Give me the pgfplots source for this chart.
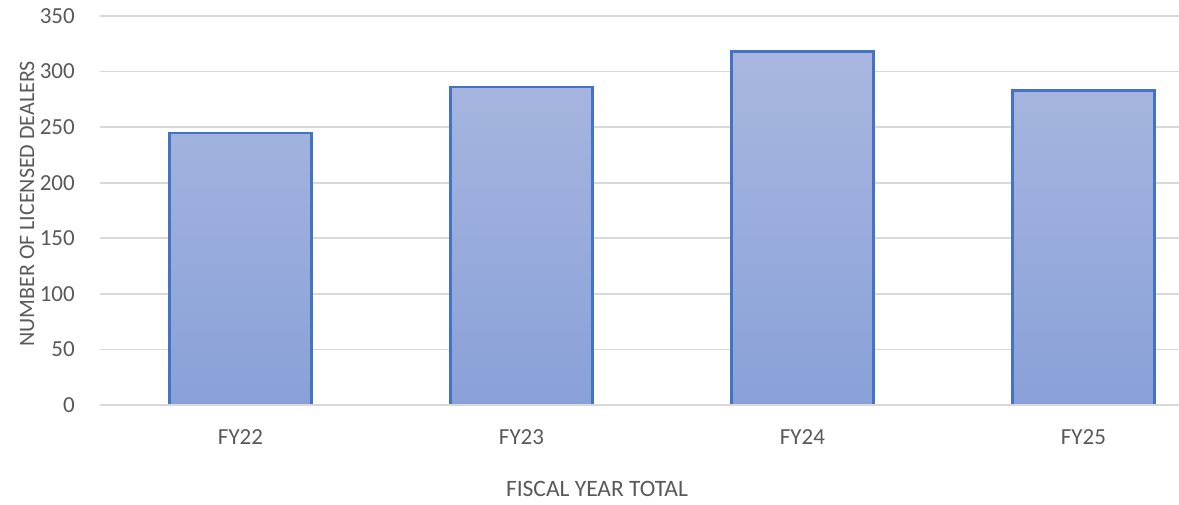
\documentclass[border=0pt]{standalone}
\usepackage{pgfplots}
\pgfplotsset{compat=1.18}
\usepackage{fontspec}
\setmainfont{Carlito}
\definecolor{labelgray}{HTML}{595959}
\definecolor{gridgray}{HTML}{D9D9D9}
\definecolor{barborder}{HTML}{4472C4}
\definecolor{bartop}{HTML}{A9B7E0}
\definecolor{barbottom}{HTML}{89A1D8}
\begin{document}
\begin{tikzpicture}[x=1pt,y=1pt]
\path[use as bounding box] (0,0) rectangle (1179,505);
\begin{axis}[
  at={(100pt,100pt)}, anchor=south west,
  scale only axis, width=1079pt, height=389pt,
  xmin=-0.5, xmax=3.34, ymin=0, ymax=350,
  ytick={0,50,...,350},
  xtick={0,1,2,3},
  xticklabels={FY22,FY23,FY24,FY25},
  axis line style={draw=none},
  tick style={draw=none},
  major tick length=0pt,
  ymajorgrids,
  grid style={draw=gridgray, line width=1.6pt},
  /pgf/number format/assume math mode=true,
  ticklabel style={font=\fontsize{23}{23}\selectfont, text=labelgray},
  yticklabel style={anchor=east, inner sep=0pt, xshift=-25pt},
  xticklabel style={anchor=north, inner sep=0pt, yshift=-24pt},
  xlabel={FISCAL YEAR TOTAL},
  ylabel={NUMBER OF LICENSED DEALERS},
  label style={text=labelgray, inner sep=0pt},
  xlabel style={font=\fontsize{23.5}{23.5}\selectfont, at={(axis description cs:0.4606,-0.216)}, anchor=center},
  ylabel style={font=\fontsize{22}{22}\selectfont, at={(axis description cs:-0.0677,0.517)}, anchor=center},
  clip=false,
  every axis plot/.append style={line width=2.2pt},
]
\addplot[ybar, bar width=0.505, draw=barborder, line width=2.2pt,
  top color=bartop, bottom color=barbottom]
  coordinates {(0,245) (1,286) (2,318) (3,283)};
\draw[gridgray, line width=1.8pt] (rel axis cs:0,0) -- (rel axis cs:1,0);
\end{axis}
\end{tikzpicture}
\end{document}
